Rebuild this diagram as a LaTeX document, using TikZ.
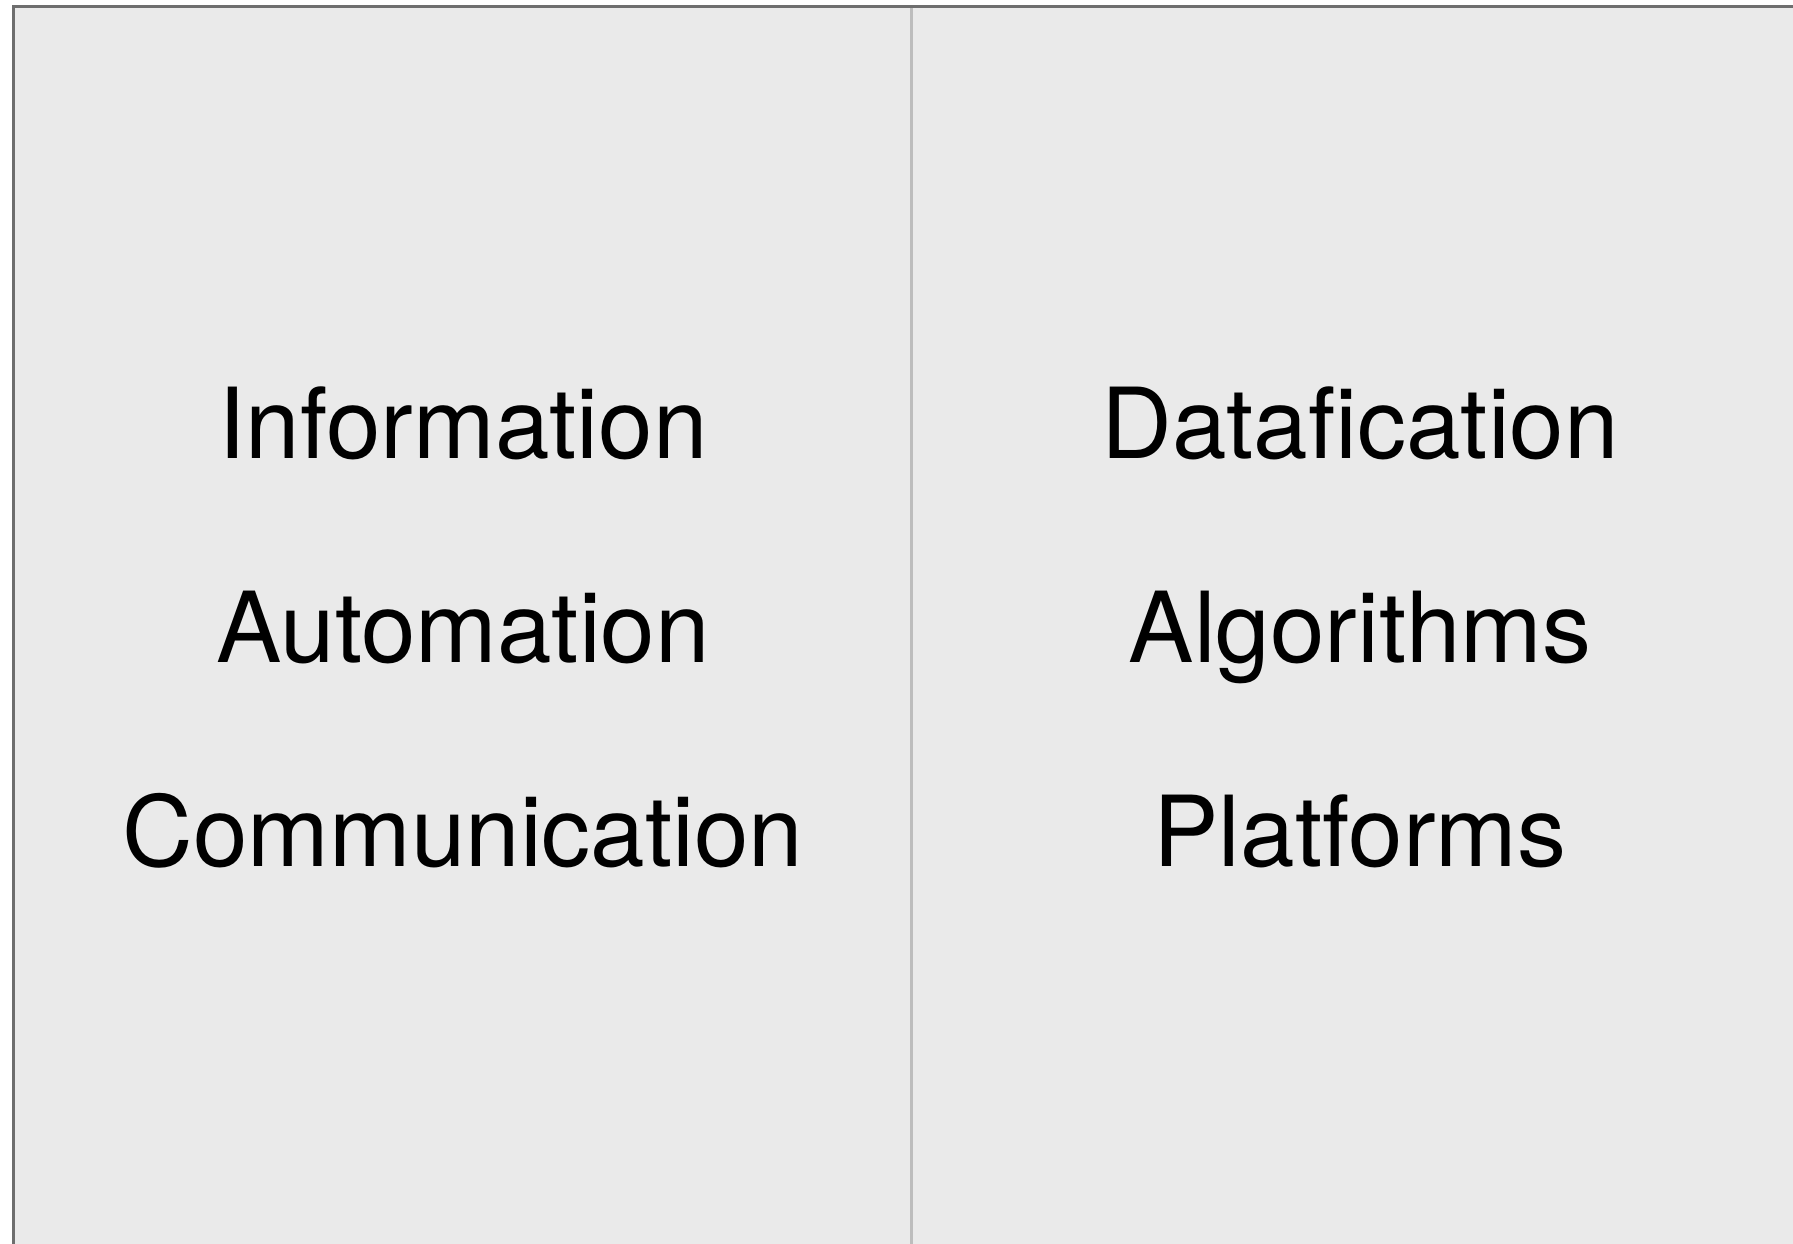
\documentclass[tikz,border=0pt]{standalone}
\usepackage{fontspec}
\setmainfont{TeX Gyre Heros}
\usepackage{tikz}
\usetikzlibrary{positioning}

\definecolor{panelgray}{HTML}{EAEAEA}
\definecolor{framegray}{HTML}{6E6E6E}
\definecolor{splitgray}{HTML}{BDBDBD}

\begin{document}
\begin{tikzpicture}[x=0.5pt,y=-0.5pt,inner sep=0pt]
      % Styles
      \tikzset{panel/.style={fill=panelgray,draw=framegray,line width=1.5pt},
               split/.style={draw=splitgray,line width=1.5pt},
               term/.style={anchor=base,font=\fontsize{49}{58}\selectfont}}

      \useasboundingbox (0,0) rectangle (1793,1243);
      \clip (0,0) rectangle (1793,1243);

      % panel with its dividing line
      \draw[panel] (13.5,6.5) rectangle (1810,1262);
      \coordinate (splittop) at (911.5,8);
      \coordinate (splitbot) at (911.5,1262);
      \draw[split] (splittop) -- (splitbot);

      % left column
      \node[term] (info) at (463,458) {Information};
      \node[term] (auto) at (463,662) {Automation};
      \node[term] (comm) at (463,866) {Communication};

      % right column
      \node[term] (data) at (1360,458) {Datafication};
      \node[term] (algo) at (1360,662) {Algorithms};
      \node[term] (plat) at (1360,866) {Platforms};
    \end{tikzpicture}
\end{document}
